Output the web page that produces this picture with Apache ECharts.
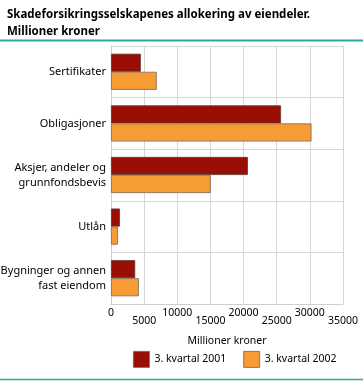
<!DOCTYPE html>
<html><head><meta charset="utf-8">
<script src="https://cdn.jsdelivr.net/npm/echarts@6/dist/echarts.min.js"></script>
<style>html,body{margin:0;padding:0;background:#fff}#c{width:363px;height:381px}</style>
</head><body><div id="c"></div>
<script>
const categories = ['Sertifikater', 'Obligasjoner', 'Aksjer, andeler og\ngrunnfondsbevis', 'Utlån', 'Bygninger og annen\nfast eiendom'];
const series2001 = [4500, 25650, 20650, 1350, 3650];
const series2002 = [6900, 30250, 15050, 1050, 4200];
const seriesNames = ['3. kvartal 2001', '3. kvartal 2002'];
const xTicks = [0, 5000, 10000, 15000, 20000, 25000, 30000, 35000];

const font = 'Noto Sans';
const chart = echarts.init(document.getElementById('c'), null, {renderer: 'canvas'});
chart.setOption({
  animation: false,
  title: {
    text: 'Skadeforsikringsselskapenes allokering av eiendeler.\nMillioner kroner',
    left: 2, top: 1,
    textStyle: {fontFamily: font, fontSize: 11.5, fontWeight: 'bold', color: '#000', lineHeight: 17}
  },
  graphic: [
    {type: 'line', shape: {x1: 0, y1: 40.5, x2: 363, y2: 40.5}, style: {stroke: '#2ba7a0', lineWidth: 2}},
    {type: 'line', shape: {x1: 0, y1: 379.5, x2: 363, y2: 379.5}, style: {stroke: '#2ba7a0', lineWidth: 1.5}}
  ],
  legend: {
    data: seriesNames,
    left: 128, top: 346, width: 235,
    icon: 'rect',
    itemWidth: 16, itemHeight: 16, itemGap: 17,
    itemStyle: {borderColor: '#666', borderWidth: 0.8},
    textStyle: {fontFamily: font, fontSize: 10.5, color: '#000'}
  },
  grid: {left: 111, right: 20, top: 46, bottom: 77, outerBoundsMode: 'none', containLabel: false, show: false},
  xAxis: {
    type: 'value', min: 0, max: 35000, interval: 5000,
    name: 'Millioner kroner', nameLocation: 'middle', nameGap: 32,
    nameTextStyle: {fontFamily: font, fontSize: 10.5, color: '#000'},
    axisLine: {show: true, lineStyle: {color: '#cfcfcf'}},
    axisTick: {show: false},
    splitLine: {show: true, lineStyle: {color: '#d6d6d6', width: 1}},
    axisLabel: {
      fontFamily: font, fontSize: 10.5, color: '#000', margin: 4, hideOverlap: false,
      formatter: function (v) {
        const i = xTicks.indexOf(v);
        return (i % 2 === 1) ? '{lo|' + v + '}' : '{hi|' + v + '}';
      },
      rich: {
        hi: {fontFamily: font, fontSize: 10.5, color: '#000', padding: [0, 0, 8, 0]},
        lo: {fontFamily: font, fontSize: 10.5, color: '#000', padding: [8, 0, 0, 0]}
      }
    }
  },
  yAxis: {
    type: 'category', data: categories, inverse: true,
    axisLine: {show: true, lineStyle: {color: '#cfcfcf'}},
    axisTick: {show: false},
    splitLine: {show: true, lineStyle: {color: '#d6d6d6', width: 1}},
    axisLabel: {fontFamily: font, fontSize: 11, color: '#000', margin: 5, lineHeight: 15, align: 'right'}
  },
  series: [
    {name: seriesNames[0], type: 'bar', data: series2001, barGap: '0%', barCategoryGap: '30%',
     itemStyle: {color: '#990f05', borderColor: '#5a3a30', borderWidth: 0.8}},
    {name: seriesNames[1], type: 'bar', data: series2002, barGap: '0%', barCategoryGap: '30%',
     itemStyle: {color: '#f79b35', borderColor: '#7a6a5a', borderWidth: 0.8}}
  ]
});
</script></body></html>
